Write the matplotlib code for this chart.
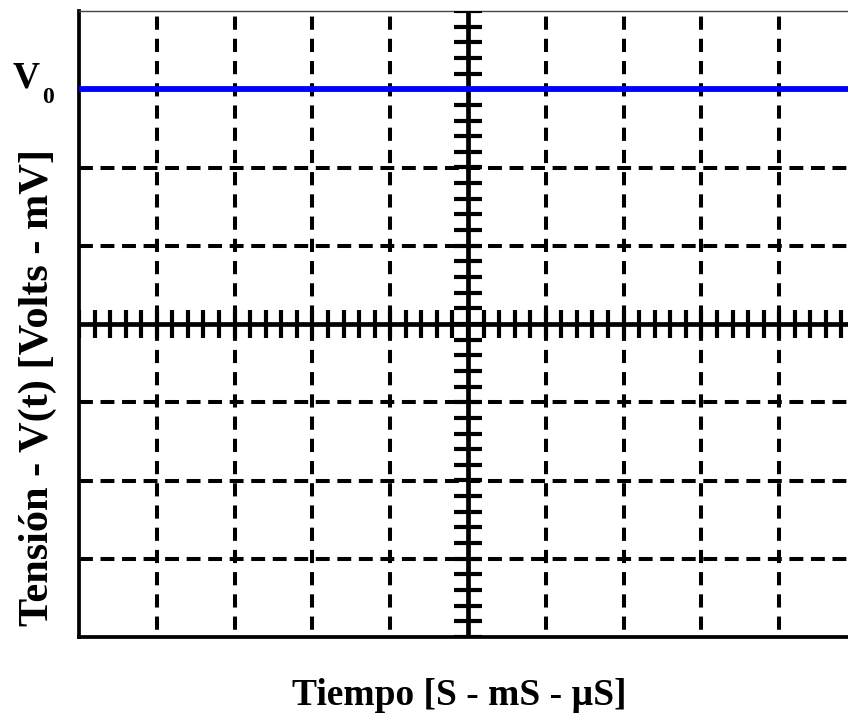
import numpy as np
import matplotlib
matplotlib.use('Agg')
import matplotlib.pyplot as plt

plt.rcParams['font.family'] = ['Liberation Serif', 'DejaVu Serif']
plt.rcParams['lines.scale_dashes'] = False

# ---- data ----
x_limits = [-5, 5]
y_limits = [-4, 4]
v0_level = 3
grid_x = [-4, -3, -2, -1, 1, 2, 3, 4]
grid_y = [-3, -2, -1, 1, 2, 3]
minor_step = 0.2
xlabel = 'Tiempo [S - mS - µS]'
ylabel = 'Tensión - V(t) [Volts - mV]'
v_label = 'V'
v_sub = '0'

W, H = 848, 718
fig = plt.figure(figsize=(W / 100, H / 100), dpi=100)
ax = fig.add_axes([79 / W, 1 - 637 / H, 778 / W, 626 / H])
ax.set_xlim(x_limits)
ax.set_ylim(y_limits)

# dashed grid
for gx in grid_x:
    ax.plot([gx, gx], [y_limits[1], y_limits[0]], color='black', lw=2.9,
            linestyle=(12, (9.5, 6.5)), dash_capstyle='butt', zorder=1)
for gy in grid_y:
    ax.plot([x_limits[0], x_limits[1]], [gy, gy], color='black', lw=2.9,
            linestyle=(0, (10, 5.5)), dash_capstyle='butt', zorder=1)

# central axes with ticks
ax.plot(x_limits, [0, 0], color='black', lw=3.4, zorder=3)
ax.plot([0, 0], y_limits, color='black', lw=3.4, zorder=3)
tx = np.arange(x_limits[0], x_limits[1] + 1e-9, minor_step)
ty = np.arange(y_limits[0], y_limits[1] + 1e-9, minor_step)
ax.plot(tx, np.zeros_like(tx), ls='none', marker='|', ms=19.5, mew=3.0,
        color='black', zorder=3)
ax.plot(np.zeros_like(ty), ty, ls='none', marker='_', ms=19.5, mew=3.0,
        color='black', zorder=3)

# V0 level
ax.plot(x_limits, [v0_level, v0_level], color='#0000ff', lw=4.2,
        solid_capstyle='butt', zorder=4)

ax.set_xticks([])
ax.set_yticks([])
ax.spines['right'].set_visible(False)
ax.spines['top'].set_linewidth(1.0)
ax.spines['top'].set_color('#444444')
ax.spines['left'].set_linewidth(2.7)
ax.spines['bottom'].set_linewidth(2.7)

fig.text(459 / W, 1 - 705 / H, xlabel, ha='center', va='baseline',
         fontsize=27, fontweight='bold')
fig.text(38 / W, 1 - 388 / H, ylabel, ha='center', va='center',
         rotation=90, fontsize=30.5, fontweight='bold')
fig.text(13 / W, 1 - 87 / H, v_label, ha='left', va='baseline',
         fontsize=27, fontweight='bold')
fig.text(42 / W, 1 - 103 / H, v_sub, ha='left', va='baseline',
         fontsize=17, fontweight='bold')

fig.savefig('out.png', dpi=100)
